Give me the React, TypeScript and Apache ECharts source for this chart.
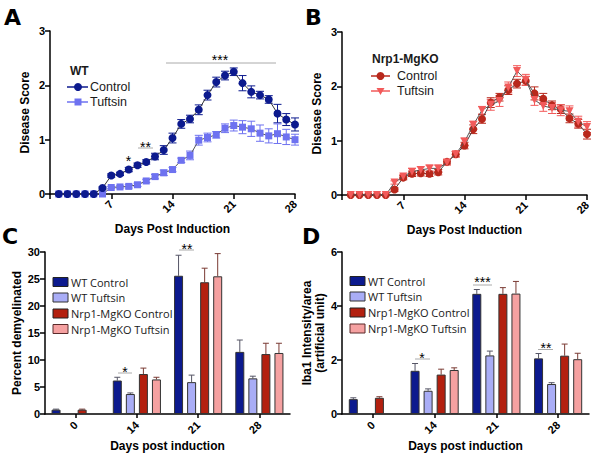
import React, { useEffect, useRef } from "react";
import * as echarts from "echarts";

// ---------- Data ----------
const days = [1, 2, 3, 4, 5, 6, 7, 8, 9, 10, 11, 12, 13, 14, 15, 16, 17, 18, 19, 20, 21, 22, 23, 24, 25, 26, 27, 28];

const wtControl = [0, 0, 0, 0, 0, 0.11, 0.34, 0.37, 0.45, 0.53, 0.59, 0.69, 0.81, 1.03, 1.29, 1.38, 1.55, 1.82, 2.06, 2.18, 2.25, 2.04, 1.88, 1.82, 1.74, 1.48, 1.37, 1.28];
const wtControlErr = [0, 0, 0, 0, 0, 0.02, 0.03, 0.03, 0.04, 0.04, 0.04, 0.06, 0.08, 0.09, 0.08, 0.07, 0.09, 0.09, 0.09, 0.08, 0.07, 0.14, 0.11, 0.07, 0.07, 0.17, 0.11, 0.12];
const wtTuftsin = [0, 0, 0, 0, 0, 0, 0.12, 0.13, 0.14, 0.17, 0.24, 0.32, 0.39, 0.45, 0.62, 0.71, 0.99, 1.04, 1.09, 1.21, 1.26, 1.23, 1.2, 1.12, 1.07, 1.11, 1.05, 1.0];
const wtTuftsinErr = [0, 0, 0, 0, 0, 0, 0.02, 0.02, 0.03, 0.03, 0.03, 0.04, 0.05, 0.04, 0.04, 0.08, 0.09, 0.08, 0.06, 0.08, 0.1, 0.12, 0.14, 0.15, 0.13, 0.18, 0.14, 0.1];

const koControl = [0, 0, 0, 0, 0, 0.1, 0.32, 0.39, 0.4, 0.39, 0.42, 0.61, 0.75, 0.91, 1.21, 1.4, 1.7, 1.8, 1.93, 2.05, 2.1, 1.87, 1.77, 1.65, 1.58, 1.41, 1.31, 1.12];
const koControlErr = [0, 0, 0, 0, 0, 0.03, 0.04, 0.05, 0.05, 0.05, 0.05, 0.04, 0.05, 0.06, 0.08, 0.08, 0.09, 0.07, 0.08, 0.08, 0.08, 0.12, 0.1, 0.08, 0.08, 0.08, 0.08, 0.09];
const koTuftsin = [0, 0, 0, 0, 0, 0.23, 0.34, 0.43, 0.46, 0.49, 0.49, 0.6, 0.75, 0.98, 1.29, 1.56, 1.66, 1.73, 1.98, 2.28, 2.12, 1.75, 1.64, 1.6, 1.56, 1.54, 1.35, 1.25];
const koTuftsinErr = [0, 0, 0, 0, 0, 0.03, 0.04, 0.06, 0.06, 0.06, 0.06, 0.05, 0.05, 0.07, 0.07, 0.07, 0.1, 0.1, 0.1, 0.1, 0.1, 0.1, 0.1, 0.1, 0.1, 0.1, 0.1, 0.1];

const barCategories = ["0", "14", "21", "28"];

const demyWtCtrl = [0.8, 6.2, 25.6, 11.5];
const demyWtCtrlErr = [0.1, 0.6, 3.8, 2.2];
const demyWtTuft = [null, 3.7, 5.9, 6.6];
const demyWtTuftErr = [0, 0.2, 1.3, 0.4];
const demyKoCtrl = [0.8, 7.4, 24.4, 11.1];
const demyKoCtrlErr = [0.1, 1.1, 2.6, 2.0];
const demyKoTuft = [null, 6.4, 25.5, 11.3];
const demyKoTuftErr = [0, 0.4, 4.2, 1.8];

const ibaWtCtrl = [0.55, 1.6, 4.45, 2.06];
const ibaWtCtrlErr = [0.05, 0.27, 0.16, 0.18];
const ibaWtTuft = [null, 0.86, 2.17, 1.11];
const ibaWtTuftErr = [0, 0.07, 0.16, 0.05];
const ibaKoCtrl = [0.6, 1.46, 4.45, 2.16];
const ibaKoCtrlErr = [0.04, 0.2, 0.23, 0.43];
const ibaKoTuft = [null, 1.63, 4.46, 2.03];
const ibaKoTuftErr = [0, 0.08, 0.45, 0.22];

// ---------- Styles ----------
const NAVY = "#0c1a8e";
const PERI = "#6e72f0";
const PERI_BAR = "#a9adf6";
const RED = "#b3200f";
const RED_B = "#b8281c";
const PINK_B = "#f25a5a";
const PINK_BAR = "#f5a1a1";
const AX_FONT = "'Liberation Sans', Arial, sans-serif";
const LEG_FONT = "'Open Sans', sans-serif";
const LEG_FONT2 = "'Liberation Sans', Arial, sans-serif";

const BAR_W = 9;
const BAR_GAP = 0.45;

function errSeries(idx: number, xs: any[], vals: any[], errs: number[], color: string, opts: { offset?: number; cap?: number; upOnly?: boolean; z?: number }) {
  const data: any[] = [];
  vals.forEach((v, i) => {
    if (v == null || !errs[i]) return;
    data.push([xs[i], opts.upOnly ? v : v - errs[i], v + errs[i]]);
  });
  const offset = opts.offset || 0;
  const cap = opts.cap || 4;
  return {
    type: "custom",
    xAxisIndex: idx,
    yAxisIndex: idx,
    z: opts.z || 2,
    silent: true,
    data,
    encode: { x: 0, y: [1, 2] },
    renderItem: (params: any, api: any) => {
      const x = api.value(0);
      const lo = api.coord([x, api.value(1)]);
      const hi = api.coord([x, api.value(2)]);
      const px = lo[0] + offset;
      const st = { stroke: color, lineWidth: 1 };
      const children: any[] = [
        { type: "line", shape: { x1: px, y1: lo[1], x2: px, y2: hi[1] }, style: st },
        { type: "line", shape: { x1: px - cap, y1: hi[1], x2: px + cap, y2: hi[1] }, style: st },
      ];
      if (!opts.upOnly) {
        children.push({ type: "line", shape: { x1: px - cap, y1: lo[1], x2: px + cap, y2: lo[1] }, style: st });
      }
      return { type: "group", children };
    },
  };
}

function lineAxisX(idx: number) {
  return {
    gridIndex: idx,
    type: "value",
    min: 0,
    max: 28,
    interval: 7,
    axisLine: { show: true, onZero: false, lineStyle: { color: "#000", width: 1.5 } },
    axisTick: { show: true, length: 5, lineStyle: { color: "#000", width: 1.5 } },
    splitLine: { show: false },
    axisLabel: {
      rotate: 45,
      margin: 8,
      formatter: (v: number) => (v === 0 ? "" : String(v)),
      fontFamily: AX_FONT,
      fontWeight: "bold",
      fontSize: 11,
      color: "#000",
    },
    name: "Days Post Induction",
    nameLocation: "middle",
    nameGap: 29,
    nameTextStyle: { fontFamily: AX_FONT, fontWeight: "bold", fontSize: 12, color: "#000" },
  };
}

function valAxisY(idx: number, max: number, interval: number, name: string, nameGap: number) {
  return {
    gridIndex: idx,
    type: "value",
    min: 0,
    max,
    interval,
    axisLine: { show: true, lineStyle: { color: "#000", width: 1.5 } },
    axisTick: { show: true, length: 5, lineStyle: { color: "#000", width: 1.5 } },
    splitLine: { show: false },
    axisLabel: { fontFamily: AX_FONT, fontWeight: "bold", fontSize: 11, color: "#000", margin: 5 },
    name,
    nameLocation: "middle",
    nameGap,
    nameTextStyle: { fontFamily: AX_FONT, fontWeight: "bold", fontSize: 12, color: "#000", lineHeight: 13 },
  };
}

function catAxisX(idx: number) {
  return {
    gridIndex: idx,
    type: "category",
    data: barCategories,
    axisLine: { show: true, lineStyle: { color: "#000", width: 1.5 } },
    axisTick: { show: true, alignWithLabel: true, length: 4, lineStyle: { color: "#000", width: 1.5 } },
    axisLabel: { rotate: 45, margin: 9, fontFamily: AX_FONT, fontWeight: "bold", fontSize: 11, color: "#000" },
    name: "Days post induction",
    nameLocation: "middle",
    nameGap: 26,
    nameTextStyle: { fontFamily: AX_FONT, fontWeight: "bold", fontSize: 12, color: "#000" },
  };
}

function barSeries(idx: number, vals: any[], color: string) {
  return {
    type: "bar",
    xAxisIndex: idx,
    yAxisIndex: idx,
    data: vals,
    barWidth: BAR_W,
    barGap: BAR_GAP * 100 + "%",
    itemStyle: { color, borderColor: "#333", borderWidth: 1 },
    z: 2,
  };
}

function barOffset(i: number) {
  return (i - 1.5) * (BAR_W * (1 + BAR_GAP));
}

function star(x: number, y: number, text: string) {
  return {
    type: "text",
    x,
    y,
    style: { text, fill: "#000", font: "14px " + AX_FONT, textAlign: "center", textVerticalAlign: "middle" },
  };
}
function sigLine(x1: number, x2: number, y: number) {
  return { type: "line", shape: { x1, y1: y, x2, y2: y }, style: { stroke: "#aaa", lineWidth: 1 } };
}
function legText(x: number, y: number, text: string, size: number, bold = false, family = LEG_FONT) {
  return {
    type: "text",
    x,
    y,
    style: {
      text,
      fill: "#1a1a1a",
      fontFamily: family,
      fontSize: size,
      fontWeight: bold ? "bold" : "normal",
      textAlign: "left",
      textVerticalAlign: "middle",
    },
  };
}
function legBox(x: number, y: number, color: string, stroke: string) {
  return { type: "rect", shape: { x, y: y - 4.5, width: 15, height: 9 }, style: { fill: color, stroke, lineWidth: 1 } };
}
function panelLetter(x: number, y: number, t: string) {
  return {
    type: "text",
    x,
    y,
    style: { text: t, fill: "#000", font: "900 22px 'DejaVu Sans', sans-serif", textAlign: "left", textVerticalAlign: "middle" },
  };
}

export default function App() {
  const ref = useRef<HTMLDivElement>(null);
  useEffect(() => {
    if (!ref.current) return;
    const chart = echarts.init(ref.current, undefined, { renderer: "svg" });
    const pts = (ys: number[]) => days.map((d, i) => [d, ys[i]]);

    const option: any = {
      animation: false,
      backgroundColor: "#fff",
      grid: [
        { left: 50, top: 31, width: 245, height: 163 },
        { left: 342, top: 32, width: 245, height: 163 },
        { left: 45, top: 252, width: 245, height: 162 },
        { left: 342, top: 252, width: 247, height: 162 },
      ],
      xAxis: [lineAxisX(0), lineAxisX(1), catAxisX(2), catAxisX(3)],
      yAxis: [
        valAxisY(0, 3, 1, "Disease Score", 19),
        valAxisY(1, 3, 1, "Disease Score", 19),
        valAxisY(2, 30, 5, "Percent demyelinated", 22),
        valAxisY(3, 6, 2, "Iba1 Intensity/area\n(artificial unit)", 16),
      ],
      series: [
        // Panel A
        errSeries(0, days, wtControl, wtControlErr, NAVY, { cap: 4 }),
        errSeries(0, days, wtTuftsin, wtTuftsinErr, PERI, { cap: 4 }),
        {
          type: "line", xAxisIndex: 0, yAxisIndex: 0, data: pts(wtTuftsin),
          symbol: "rect", symbolSize: 7, itemStyle: { color: PERI }, lineStyle: { color: "#555", width: 1 }, z: 3,
        },
        {
          type: "line", xAxisIndex: 0, yAxisIndex: 0, data: pts(wtControl),
          symbol: "circle", symbolSize: 8, itemStyle: { color: NAVY }, lineStyle: { color: "#333", width: 1 }, z: 4,
        },
        // Panel B
        errSeries(1, days, koControl, koControlErr, RED_B, { cap: 4 }),
        errSeries(1, days, koTuftsin, koTuftsinErr, PINK_B, { cap: 4 }),
        {
          type: "line", xAxisIndex: 1, yAxisIndex: 1, data: pts(koControl),
          symbol: "circle", symbolSize: 8, itemStyle: { color: RED_B }, lineStyle: { color: "#444", width: 1 }, z: 3,
        },
        {
          type: "line", xAxisIndex: 1, yAxisIndex: 1, data: pts(koTuftsin),
          symbol: "triangle", symbolRotate: 180, symbolSize: 8, itemStyle: { color: PINK_B }, lineStyle: { color: "#555", width: 1 }, z: 4,
        },
        // Panel C
        barSeries(2, demyWtCtrl, NAVY),
        barSeries(2, demyWtTuft, PERI_BAR),
        barSeries(2, demyKoCtrl, RED),
        barSeries(2, demyKoTuft, PINK_BAR),
        errSeries(2, [0, 1, 2, 3], demyWtCtrl, demyWtCtrlErr, "#556", { offset: barOffset(0), cap: 3, upOnly: true, z: 1 }),
        errSeries(2, [0, 1, 2, 3], demyWtTuft, demyWtTuftErr, "#556", { offset: barOffset(1), cap: 3, upOnly: true, z: 1 }),
        errSeries(2, [0, 1, 2, 3], demyKoCtrl, demyKoCtrlErr, "#7a3a33", { offset: barOffset(2), cap: 3, upOnly: true, z: 1 }),
        errSeries(2, [0, 1, 2, 3], demyKoTuft, demyKoTuftErr, "#7a3a33", { offset: barOffset(3), cap: 3, upOnly: true, z: 1 }),
        // Panel D
        barSeries(3, ibaWtCtrl, NAVY),
        barSeries(3, ibaWtTuft, PERI_BAR),
        barSeries(3, ibaKoCtrl, RED),
        barSeries(3, ibaKoTuft, PINK_BAR),
        errSeries(3, [0, 1, 2, 3], ibaWtCtrl, ibaWtCtrlErr, "#556", { offset: barOffset(0), cap: 3, upOnly: true, z: 1 }),
        errSeries(3, [0, 1, 2, 3], ibaWtTuft, ibaWtTuftErr, "#556", { offset: barOffset(1), cap: 3, upOnly: true, z: 1 }),
        errSeries(3, [0, 1, 2, 3], ibaKoCtrl, ibaKoCtrlErr, "#7a3a33", { offset: barOffset(2), cap: 3, upOnly: true, z: 1 }),
        errSeries(3, [0, 1, 2, 3], ibaKoTuft, ibaKoTuftErr, "#7a3a33", { offset: barOffset(3), cap: 3, upOnly: true, z: 1 }),
      ],
      graphic: [
        panelLetter(4, 17, "A"),
        panelLetter(305, 17, "B"),
        panelLetter(2, 236, "C"),
        panelLetter(302, 236, "D"),
        // Legend A
        legText(70, 71, "WT", 12, true, LEG_FONT2),
        { type: "line", shape: { x1: 67, y1: 87, x2: 88, y2: 87 }, style: { stroke: NAVY, lineWidth: 1.5 } },
        { type: "circle", shape: { cx: 78, cy: 87, r: 4 }, style: { fill: NAVY } },
        legText(90, 87, "Control", 12.5, false, LEG_FONT2),
        { type: "line", shape: { x1: 67, y1: 102, x2: 88, y2: 102 }, style: { stroke: PERI, lineWidth: 1.5 } },
        { type: "rect", shape: { x: 74.5, y: 98.5, width: 7, height: 7 }, style: { fill: PERI } },
        legText(90, 102, "Tuftsin", 12.5, false, LEG_FONT2),
        // Legend B
        legText(372, 59, "Nrp1-MgKO", 12, true, LEG_FONT2),
        { type: "line", shape: { x1: 371, y1: 76, x2: 390, y2: 76 }, style: { stroke: RED_B, lineWidth: 1.5 } },
        { type: "circle", shape: { cx: 380.5, cy: 76, r: 4 }, style: { fill: RED_B } },
        legText(397, 76, "Control", 12.5, false, LEG_FONT2),
        { type: "line", shape: { x1: 371, y1: 91, x2: 390, y2: 91 }, style: { stroke: PINK_B, lineWidth: 1.5 } },
        { type: "polygon", shape: { points: [[376.5, 88], [384.5, 88], [380.5, 95]] }, style: { fill: PINK_B } },
        legText(397, 91, "Tuftsin", 12.5, false, LEG_FONT2),
        // Legend C
        legBox(53, 282, NAVY, "#222"),
        legText(71, 282, "WT Control", 11),
        legBox(53, 297.5, PERI_BAR, "#333"),
        legText(71, 297.5, "WT Tuftsin", 11),
        legBox(53, 313.5, RED, "#222"),
        legText(71, 313.5, "Nrp1-MgKO Control", 11),
        legBox(53, 329, PINK_BAR, "#5a2a2a"),
        legText(71, 329, "Nrp1-MgKO Tuftsin", 11),
        // Legend D
        legBox(350, 281, NAVY, "#222"),
        legText(368, 281, "WT Control", 11),
        legBox(350, 296.5, PERI_BAR, "#333"),
        legText(368, 296.5, "WT Tuftsin", 11),
        legBox(350, 312.5, RED, "#222"),
        legText(368, 312.5, "Nrp1-MgKO Control", 11),
        legBox(350, 328.5, PINK_BAR, "#5a2a2a"),
        legText(368, 328.5, "Nrp1-MgKO Tuftsin", 11),
        // Significance A
        star(128.5, 161, "*"),
        sigLine(138, 153, 148),
        star(145.5, 147, "**"),
        sigLine(166, 276, 63),
        star(220, 60, "***"),
        // Significance C
        sigLine(118, 132, 373),
        star(125, 372, "*"),
        sigLine(179, 194, 250),
        star(187, 249, "**"),
        // Significance D
        sigLine(415, 430, 359),
        star(422, 358, "*"),
        sigLine(473, 492, 285),
        star(482.5, 282, "***"),
        sigLine(538, 553, 349.5),
        star(546, 348, "**"),
      ],
    };
    chart.setOption(option);
    return () => chart.dispose();
  }, []);
  return (
    <div
      ref={ref}
      style={{ position: "absolute", left: 0, top: 0, width: 600, height: 459, background: "#fff" }}
    />
  );
}
